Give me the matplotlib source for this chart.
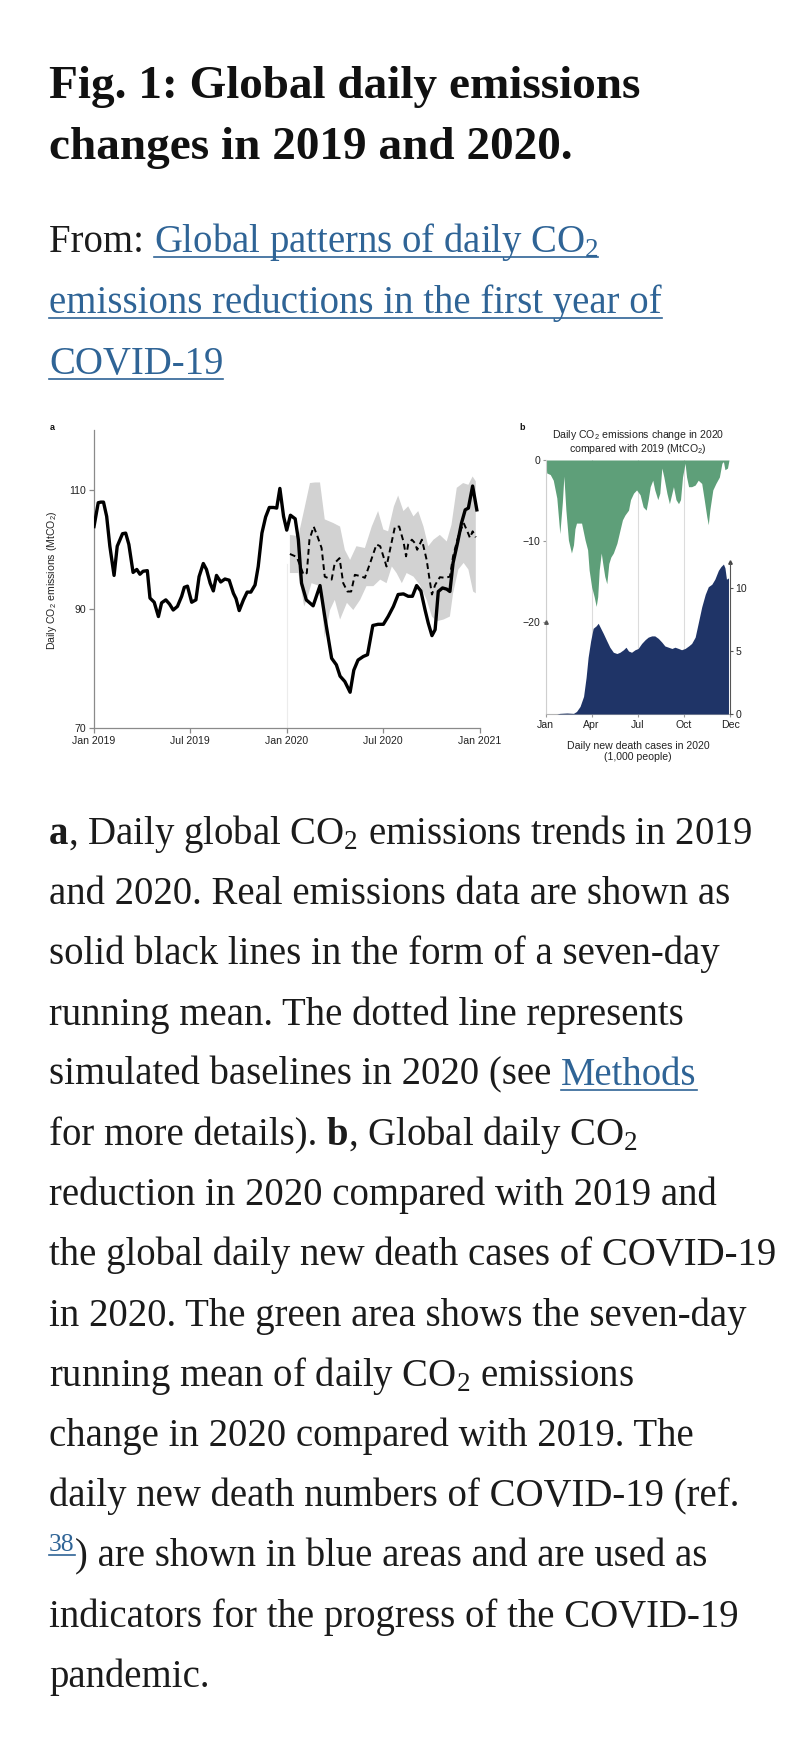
import numpy as np
import matplotlib
matplotlib.use('Agg')
import matplotlib.pyplot as plt
import matplotlib.dates as mdates
from matplotlib.lines import Line2D

# =============================================================================
# DATA
# =============================================================================
# panel a: days since 2019-01-01, MtCO2 per day (7-day running mean)
real_days = [0, 8, 13, 18, 24, 30, 38, 44, 54, 60, 66, 74, 81, 87, 93, 101, 106, 114,
             122, 128, 136, 143, 150, 158, 166, 171, 177, 185, 193, 199, 207, 213, 220,
             226, 232, 240, 248, 256, 264, 269, 275, 283, 290, 297, 305, 311, 318, 325,
             332, 340, 346, 352, 359, 365, 372, 381, 387, 393, 402, 415, 428, 437, 450,
             459, 466, 475, 485, 492, 500, 510, 518, 528, 538, 548, 557, 567, 576, 586,
             595, 603, 611, 619, 627, 633, 640, 646, 652, 660, 668, 674, 680, 689, 696,
             703, 709, 717, 725]
real_vals = [103.8, 107.8, 107.9, 107.9, 105.5, 100.5, 95.6, 100.5, 102.6, 102.7, 100.8,
             96.1, 96.6, 95.8, 96.3, 96.4, 91.8, 91.1, 88.7, 91.0, 91.5, 90.8, 89.8, 90.4,
             92.1, 93.6, 93.8, 91.1, 91.5, 95.4, 97.6, 96.6, 94.3, 93.0, 95.6, 94.5, 95.0,
             94.8, 92.6, 91.7, 89.7, 91.5, 92.8, 92.8, 94.0, 97.1, 102.7, 105.4, 107.0,
             107.0, 106.9, 110.2, 105.5, 103.2, 105.7, 105.1, 101.6, 94.3, 91.5, 90.5,
             93.9, 88.7, 81.7, 80.6, 78.7, 77.8, 76.0, 79.7, 81.4, 82.0, 82.3, 87.2, 87.4,
             87.4, 88.7, 90.4, 92.4, 92.5, 92.1, 92.1, 93.9, 93.0, 89.8, 87.6, 85.5, 86.5,
             92.9, 93.5, 93.3, 92.9, 97.7, 101.3, 104.4, 106.6, 106.9, 110.6, 106.6]

# simulated 2020 baseline (dashed)
base_days = [371, 384, 397, 403, 408, 416, 423, 431, 437, 450, 456, 465, 472, 480, 487,
             494, 504, 513, 523, 535, 542, 548, 554, 562, 570, 578, 586, 591, 595, 602,
             608, 612, 621, 630, 635, 640, 646, 655, 665, 674, 680, 690, 700, 707, 712,
             717, 723]
base_vals = [99.2, 98.7, 95.7, 96.0, 101.6, 103.8, 102.2, 100.2, 95.4, 94.9, 97.7, 98.5,
             94.3, 92.9, 92.9, 95.7, 95.5, 95.2, 97.7, 100.8, 100.5, 98.8, 97.1, 100.5,
             103.8, 103.8, 101.3, 98.8, 100.8, 101.6, 101.0, 99.9, 101.6, 98.2, 95.2, 92.4,
             94.0, 95.3, 95.2, 95.4, 98.8, 102.2, 104.4, 103.0, 101.9, 103.0, 102.0]

# uncertainty band of the baseline
band_hi_days = [371, 387, 398, 409, 419, 428, 437, 453, 466, 475, 485, 497, 513, 526, 538,
                548, 557, 568, 576, 586, 595, 605, 614, 624, 633, 643, 655, 668, 677, 687,
                699, 709, 717, 723]
band_hi_vals = [102.4, 102.2, 106.6, 111.1, 111.2, 111.2, 105.0, 104.4, 103.8, 99.9, 98.2,
                100.5, 100.2, 103.8, 106.4, 103.3, 103.0, 107.2, 109.0, 106.4, 107.2, 105.5,
                106.4, 103.8, 100.5, 101.6, 102.4, 101.3, 104.1, 110.3, 111.1, 110.8, 112.2,
                111.4]
band_lo_days = [371, 387, 398, 403, 412, 428, 437, 447, 456, 466, 479, 491, 504, 516, 529,
                542, 554, 564, 573, 583, 592, 605, 617, 630, 640, 649, 662, 674, 680, 690,
                700, 709, 718, 723]
band_lo_vals = [96.0, 96.0, 90.4, 91.5, 94.3, 93.8, 85.1, 89.8, 91.5, 88.2, 91.0, 89.8,
                91.5, 93.8, 93.8, 94.9, 94.3, 97.1, 96.0, 94.3, 96.0, 95.4, 94.0, 91.5, 88.7,
                87.9, 88.2, 88.7, 92.6, 96.6, 97.7, 96.6, 92.9, 92.6]

a_tick_days = [0, 181, 365, 547, 731]
a_tick_labels = ['Jan 2019', 'Jul 2019', 'Jan 2020', 'Jul 2020', 'Jan 2021']
a_yticks = [70, 90, 110]

# panel b: days since 2020-01-01
co2_days = [0, 2, 9, 15, 22, 28, 33, 36, 40, 45, 51, 55, 58, 61, 71, 78, 83, 86, 91, 96,
            100, 103, 106, 110, 113, 117, 121, 125, 129, 134, 141, 147, 152, 157, 164,
            168, 174, 180, 187, 193, 199, 203, 207, 212, 216, 222, 226, 230, 234, 240,
            245, 250, 253, 258, 263, 267, 271, 276, 279, 283, 289, 296, 302, 309, 314,
            319, 322, 325, 331, 337, 344, 349, 352, 355, 360, 363]
co2_change = [0.0, -1.6, -1.8, -2.5, -4.7, -9.1, -5.2, -2.0, -6.2, -9.9, -11.5, -10.5,
              -8.5, -7.8, -7.8, -9.9, -11.1, -13.6, -15.7, -16.9, -18.1, -16.9, -13.6,
              -11.5, -12.8, -14.4, -15.3, -12.8, -12.0, -11.5, -10.3, -8.7, -7.4, -6.8,
              -6.2, -4.9, -4.1, -3.7, -4.3, -5.8, -6.2, -4.9, -3.3, -2.5, -3.7, -4.9, -4.1,
              -1.0, -2.1, -4.1, -5.4, -4.1, -3.3, -4.9, -5.4, -4.9, -2.1, -0.4, -2.1, -3.3,
              -3.3, -3.1, -2.5, -2.9, -4.9, -7.0, -8.0, -6.2, -3.7, -2.9, -2.1, -0.4, -0.2,
              -1.2, -1.0, 0.0]

death_days = [0, 22, 28, 42, 55, 61, 68, 75, 80, 84, 89, 94, 100, 104, 109, 114, 121, 127,
              134, 141, 147, 154, 159, 164, 170, 177, 183, 190, 197, 203, 210, 216, 223,
              230, 236, 243, 250, 256, 263, 269, 276, 283, 289, 296, 302, 309, 316, 322,
              329, 335, 342, 347, 352, 355, 358, 362]
deaths_k = [0.0, 0.0, 0.05, 0.08, 0.05, 0.2, 0.6, 1.4, 2.9, 4.5, 5.8, 6.8, 7.0, 7.2, 6.8,
            6.4, 5.8, 5.3, 4.9, 4.8, 4.9, 5.1, 5.3, 5.0, 4.9, 5.1, 5.2, 5.6, 5.9, 6.1, 6.2,
            6.2, 6.0, 5.7, 5.4, 5.3, 5.2, 5.3, 5.2, 5.1, 5.2, 5.4, 5.6, 6.1, 7.2, 8.5, 9.5,
            10.1, 10.3, 10.7, 11.4, 11.7, 11.9, 11.6, 10.7, 10.8]

b_tick_days = [0, 91, 182, 274, 365]
b_tick_labels = ['Jan', 'Apr', 'Jul', 'Oct', 'Dec']

# page text
title_lines = ['Fig. 1: Global daily emissions', 'changes in 2019 and 2020.']
source_lines = [
    [('From: ', 'n'), ('Global patterns of daily CO$_2$', 'link')],
    [('emissions reductions in the first year of', 'link')],
    [('COVID-19', 'link')],
]
caption_lines = [
    [('a', 'b'), (', Daily global CO$_2$ emissions trends in 2019', 'n')],
    [('and 2020. Real emissions data are shown as', 'n')],
    [('solid black lines in the form of a seven-day', 'n')],
    [('running mean. The dotted line represents', 'n')],
    [('simulated baselines in 2020 (see ', 'n'), ('Methods', 'link')],
    [('for more details). ', 'n'), ('b', 'b'), (', Global daily CO$_2$', 'n')],
    [('reduction in 2020 compared with 2019 and', 'n')],
    [('the global daily new death cases of COVID-19', 'n')],
    [('in 2020. The green area shows the seven-day', 'n')],
    [('running mean of daily CO$_2$ emissions', 'n')],
    [('change in 2020 compared with 2019. The', 'n')],
    [('daily new death numbers of COVID-19 (ref.', 'n')],
    [('38', 'sup'), (') are shown in blue areas and are used as', 'n')],
    [('indicators for the progress of the COVID-19', 'n')],
    [('pandemic.', 'n')],
]

# =============================================================================
# STYLE
# =============================================================================
W, H = 804, 1745
SERIF = 'Liberation Serif'
SANS = 'Liberation Sans'
INK = '#1b1b1b'
LINK = '#2f6496'
GREEN = '#5e9f79'
NAVY = '#1f3467'
BAND = '#d2d2d2'
AXC = '#8a8a8a'
TXT_SIZE = 27.9
TITLE_SIZE = 34
CH = 7.6   # chart text size

plt.rcParams['mathtext.default'] = 'regular'

fig = plt.figure(figsize=(W / 100, H / 100), dpi=100)
renderer = fig.canvas.get_renderer()


def put(x, y, s, **kw):
    # x, y in pixels from the top-left corner, y is the baseline
    kw.setdefault('va', 'baseline')
    return fig.text(x / W, 1 - y / H, s, ha=kw.pop('ha', 'left'), **kw)


def width(s, **kw):
    t = put(0, 0, '|' + s + '|', **kw)
    w = t.get_window_extent(renderer).width
    t.remove()
    t = put(0, 0, '||', **kw)
    w0 = t.get_window_extent(renderer).width
    t.remove()
    return w - w0


def text_line(x, y, parts, size):
    for s, kind in parts:
        kw = dict(family=SERIF, size=size, color=INK)
        dy = 0
        if kind == 'b':
            kw['weight'] = 'bold'
        if kind in ('link', 'sup'):
            kw['color'] = LINK
        if kind == 'sup':
            kw['size'] = size * 0.66
            dy = -size * 0.55
        put(x, y + dy, s, **kw)
        w = width(s, **kw)
        if kind in ('link', 'sup'):
            uy = y + dy + (5 if kind == 'link' else 4)
            fig.add_artist(Line2D([x / W, (x + w) / W], [1 - uy / H] * 2,
                                  transform=fig.transFigure, color=LINK, lw=1.2))
        x += w


# =============================================================================
# PAGE TEXT
# =============================================================================
X0 = 49
for i, s in enumerate(title_lines):
    put(X0, 98 + 61 * i, s, family=SERIF, size=TITLE_SIZE, weight='bold', color='#111111')

for i, parts in enumerate(source_lines):
    text_line(X0, 252 + 61 * i, parts, TXT_SIZE)

for i, parts in enumerate(caption_lines):
    text_line(X0, 844 + 60.2 * i, parts, TXT_SIZE)

# =============================================================================
# PANEL A
# =============================================================================
d0 = np.datetime64('2019-01-01')


def to_num(days, start=d0):
    return mdates.date2num(start + np.array(days).astype('timedelta64[D]'))


axa = fig.add_axes([94 / W, 1 - 728 / H, 386 / W, 298 / H])
axa.axvline(to_num([365])[0], ymin=0, ymax=0.55, color='#ececec', lw=0.8, zorder=0)
axa.fill(np.concatenate([to_num(band_hi_days), to_num(band_lo_days)[::-1]]),
         np.concatenate([band_hi_vals, band_lo_vals[::-1]]),
         color=BAND, lw=0, zorder=1)
axa.plot(to_num(base_days), base_vals, color='k', lw=1.4, ls=(0, (3, 2)), zorder=2)
axa.plot(to_num(real_days), real_vals, color='k', lw=2.4, solid_joinstyle='round', zorder=3)
axa.set_xlim(to_num([0])[0], to_num([731])[0])
axa.set_ylim(70, 120)
axa.set_xticks(to_num(a_tick_days))
axa.set_xticklabels(a_tick_labels)
axa.set_yticks(a_yticks)
for sp in ['top', 'right']:
    axa.spines[sp].set_visible(False)
for sp in ['left', 'bottom']:
    axa.spines[sp].set_color(AXC)
    axa.spines[sp].set_linewidth(0.9)
axa.tick_params(direction='out', length=3.5, width=0.9, color=AXC, labelsize=CH,
                labelcolor='#222222', pad=2.5)
for lab in axa.get_xticklabels() + axa.get_yticklabels():
    lab.set_family(SANS)
put(52, 580, 'Daily CO$_2$ emissions (MtCO$_2$)', family=SANS, size=CH, color='#222222',
    rotation=90, va='center', ha='center')
put(52, 428, 'a', family=SANS, size=6.5, weight='bold', color='#111111', va='center',
    ha='center')

# =============================================================================
# PANEL B
# =============================================================================
axb = fig.add_axes([545.7 / W, 1 - 714 / H, 184.3 / W, 254 / H])
for d in b_tick_days[:4]:
    axb.axvline(d, color='#dcdcdc', lw=0.8, zorder=0)
axb.fill_between(co2_days, co2_change, 0, color=GREEN, lw=0, zorder=2)
axb.set_xlim(0, 365)
axb.set_ylim(-31.4, 0)
axb.set_yticks([0, -10, -20])
axb.set_xticks(b_tick_days)
axb.set_xticklabels(b_tick_labels)
axb.plot([0], [-20], marker='^', ms=2.5, color='#555555', clip_on=False, zorder=4)
for sp in ['top', 'right']:
    axb.spines[sp].set_visible(False)
axb.spines['left'].set_color('#cfcfcf')
axb.spines['bottom'].set_color('#b5b5b5')
axb.tick_params(direction='out', length=2, width=0.8, color='#999999', labelsize=CH,
                labelcolor='#222222', pad=2)

axr = axb.twinx()
axr.fill_between(death_days, deaths_k, 0, color=NAVY, lw=0)
axr.set_ylim(0, 20.16)
axr.set_yticks([0, 5, 10])
axr.spines['right'].set_bounds(0, 12)
axr.spines['right'].set_color('#555555')
axr.spines['right'].set_linewidth(0.8)
for sp in ['top', 'left', 'bottom']:
    axr.spines[sp].set_visible(False)
axr.plot([365], [12.1], marker='^', ms=2.5, color='#444444', clip_on=False)
axr.tick_params(direction='out', length=2, width=0.8, color='#555555', labelsize=CH,
                labelcolor='#222222', pad=2)
for lab in axb.get_xticklabels() + axb.get_yticklabels() + axr.get_yticklabels():
    lab.set_family(SANS)

put(638, 456, 'Daily CO$_2$ emissions change in 2020\ncompared with 2019 (MtCO$_2$)',
    family=SANS, size=CH, color='#222222', ha='center', va='bottom', linespacing=1.05)
put(638, 741, 'Daily new death cases in 2020\n(1,000 people)', family=SANS, size=CH,
    color='#222222', ha='center', va='top', linespacing=1.1)
put(522, 428, 'b', family=SANS, size=6.5, weight='bold', color='#111111', va='center',
    ha='center')

fig.savefig('out.png', dpi=100, facecolor='white')
